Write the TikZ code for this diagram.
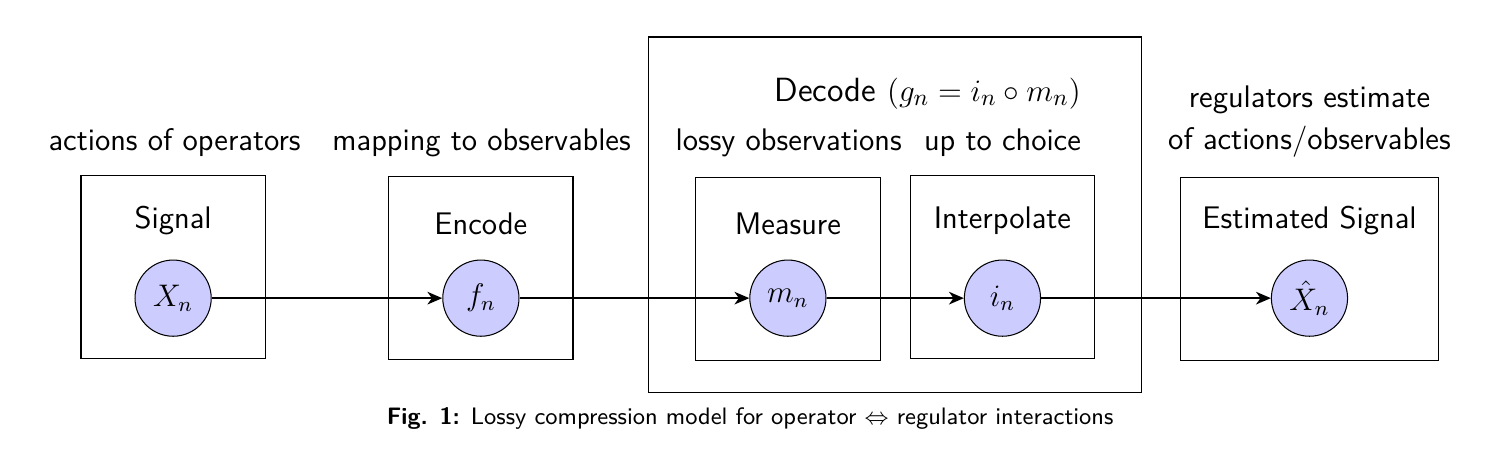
\documentclass[tikz,border=0pt]{standalone}
\usepackage{amsmath}
\usepackage{amssymb}
\usetikzlibrary{arrows.meta, positioning}

\begin{document}
\begin{tikzpicture}[font=\sffamily\large,
    stagebox/.style={draw, thin, minimum width=2.49cm, minimum height=2.47cm},
    varnode/.style={draw, circle, fill=blue!20, minimum size=1.03cm, inner sep=0pt},
    flow/.style={-{Stealth[length=2mm, width=1.7mm, inset=0.6mm]}, thick}]
    \useasboundingbox (0,0) rectangle (20.14,-6.35);
    % Outer decode frame
    \node[draw, thin, minimum width=6.66cm, minimum height=4.81cm] (decode-box) at (12.10, -2.905) {};
    \node[font=\sffamily\fontsize{12.9}{15}\selectfont] (decode-label) at (12.54, -1.26) {Decode $(g_n = i_n \circ m_n)$};
    % Stage boxes
    \node[stagebox] (signal-box) at (2.34, -3.61) {};
    \node[stagebox] (encode-box) at (6.50, -3.62) {};
    \node[stagebox] (measure-box) at (10.65, -3.64) {};
    \node[stagebox] (interp-box) at (13.55, -3.61) {};
    \node[stagebox, minimum width=3.49cm] (estim-box) at (17.70, -3.64) {};
    % Stage titles
    \node (signal-title) at (2.34, -2.98) {Signal};
    \node (encode-title) at (6.50, -3.02) {Encode};
    \node (measure-title) at (10.65, -3.02) {Measure};
    \node (interp-title) at (13.55, -2.98) {Interpolate};
    \node (estim-title) at (17.70, -2.98) {Estimated Signal};
    % Descriptions above the boxes
    \node (signal-note) at (2.36, -1.93) {actions of operators};
    \node (encode-note) at (6.51, -1.93) {mapping to observables};
    \node (measure-note) at (10.66, -1.93) {lossy observations};
    \node (interp-note) at (13.55, -1.93) {up to choice};
    \node[align=center] (estim-note) at (17.70, -1.64) {regulators estimate\\[0.07cm] of actions/observables};
    % Variables
    \node[varnode] (x-n) at (2.34, -4.03) {$X_n$};
    \node[varnode] (f-n) at (6.50, -4.03) {$f_n$};
    \node[varnode] (m-n) at (10.65, -4.03) {$m_n$};
    \node[varnode] (i-n) at (13.55, -4.03) {$i_n$};
    \node[varnode] (xhat-n) at (17.70, -4.03) {$\hat{X}_n$};
    % Connections
    \draw[flow] (x-n) -- (f-n);
    \draw[flow] (f-n) -- (m-n);
    \draw[flow] (m-n) -- (i-n);
    \draw[flow] (i-n) -- (xhat-n);
    % Caption
    \node[font=\sffamily\fontsize{9.15}{11}\selectfont] (caption) at (10.14, -5.65) {\textbf{Fig. 1:} Lossy compression model for operator $\Leftrightarrow$ regulator interactions};
\end{tikzpicture}
\end{document}
